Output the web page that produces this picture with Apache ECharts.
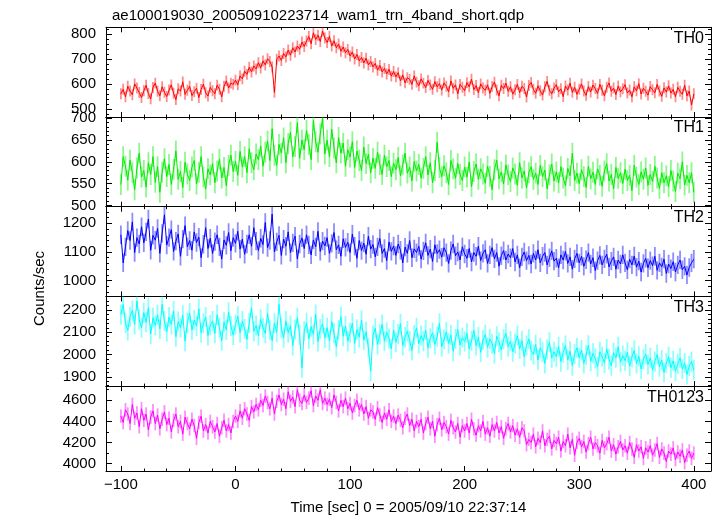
<!DOCTYPE html>
<html>
<head>
<meta charset="utf-8">
<script src="https://cdn.jsdelivr.net/npm/echarts@6/dist/echarts.min.js"></script>
<style>
html,body{margin:0;padding:0;background:#fff;}
#chart{width:720px;height:516px;}
</style>
</head>
<body>
<div id="chart"></div>
<script>
// ---- data ----
const titleText = 'ae100019030_20050910223714_wam1_trn_4band_short.qdp';
const xAxisTitle = 'Time [sec] 0 = 2005/09/10 22:37:14';
const yAxisTitle = 'Counts/sec';
const bandNames = ['TH0', 'TH1', 'TH2', 'TH3', 'TH0123'];
const bandColors = ['#ff0000', '#00ee00', '#0000ff', '#00ffff', '#ff00ff'];
const timeStart = -100;   // first bin time (s)
const timeStep = 2;       // bin width (s)
const xTickLabels = [-100, 0, 100, 200, 300, 400];
const errTH = [22, 24, 32, 45, 64];

const th0 = [
560,578,548,590,571,556,600,583,565,545,
572,594,561,540,585,603,570,552,588,566,
549,575,596,562,537,580,571,608,558,574,
590,553,568,582,545,577,599,564,551,586,
572,560,595,578,548,590,612,583,603,598,
615,596,632,620,651,638,667,648,672,660,
685,664,692,676,701,690,668,566,699,712,
694,722,708,736,715,745,728,752,739,768,
750,772,790,761,805,778,795,770,812,784,
766,790,752,773,745,760,731,748,725,738,
712,728,700,718,692,706,684,703,676,690,
668,682,655,674,648,662,640,658,631,650,
628,645,612,636,604,625,618,598,632,607,
592,620,603,585,614,596,578,609,588,601,
575,604,590,568,612,582,596,560,598,586,
572,605,588,619,577,593,565,600,583,574,
596,562,589,607,575,552,594,581,603,570,
588,559,576,598,565,590,581,547,593,606,
578,562,592,572,555,588,610,574,560,583,
597,568,580,549,591,575,603,566,586,558,
578,600,571,554,589,567,595,581,561,598,
574,552,586,604,570,583,557,591,568,580,
597,563,575,548,588,572,601,559,582,570,
555,589,576,564,598,571,550,584,567,592,
563,578,548,586,570,558,594,552,571,515,
560];

const th1 = [
548,612,590,558,604,575,536,586,620,565,
580,542,598,571,612,553,589,530,576,607,
566,594,548,583,625,560,578,541,599,572,
557,588,603,549,576,612,565,538,584,570,
596,552,579,606,563,587,545,592,615,578,
601,569,624,588,612,575,630,598,582,618,
605,636,590,622,648,603,676,615,592,640,
620,655,598,642,668,612,635,690,608,650,
628,672,640,605,695,646,622,664,700,618,
650,612,675,632,598,656,620,643,590,628,
611,646,587,625,603,580,634,596,617,575,
608,585,622,594,571,615,589,603,566,597,
582,610,568,593,620,574,588,556,601,579,
594,563,585,612,570,598,552,580,645,587,
566,591,575,548,603,584,562,596,571,557,
588,565,600,543,578,595,560,584,572,551,
590,567,536,582,604,561,577,549,593,570,
555,586,572,546,598,563,579,540,575,589,
560,574,548,592,566,581,538,570,595,556,
577,552,589,563,545,585,568,620,557,574,
550,582,566,541,590,561,576,548,584,569,
544,579,596,556,571,538,587,562,575,550,
583,557,569,534,592,565,548,577,560,586,
546,571,555,590,563,539,575,552,568,543,
580,556,532,574,561,600,547,569,552,575,
530];

const th2 = [
1160,1062,1118,1175,1140,1205,1098,1150,1128,1188,
1132,1170,1215,1106,1158,1141,1182,1095,1165,1230,
1124,1150,1178,1102,1138,1163,1085,1145,1192,1118,
1140,1106,1170,1133,1152,1080,1127,1185,1112,1148,
1095,1136,1160,1118,1075,1142,1123,1168,1104,1150,
1130,1172,1110,1145,1092,1128,1160,1120,1185,1138,
1105,1148,1126,1203,1115,1140,1232,1100,1135,1158,
1088,1145,1120,1170,1098,1132,1155,1076,1128,1149,
1112,1160,1125,1090,1142,1118,1172,1102,1138,1121,
1150,1095,1130,1168,1108,1125,1085,1146,1116,1134,
1098,1162,1120,1078,1140,1105,1131,1092,1155,1110,
1126,1083,1118,1147,1095,1112,1070,1135,1102,1121,
1088,1128,1106,1062,1117,1095,1140,1080,1111,1098,
1120,1075,1104,1132,1088,1110,1067,1125,1095,1108,
1082,1115,1098,1060,1105,1128,1087,1100,1072,1118,
1093,1078,1112,1065,1098,1085,1120,1070,1095,1108,
1060,1090,1115,1076,1098,1050,1087,1105,1072,1093,
1080,1112,1065,1090,1045,1083,1100,1070,1088,1058,
1095,1072,1108,1062,1085,1098,1055,1080,1104,1068,
1078,1045,1090,1072,1102,1060,1083,1040,1076,1095,
1062,1085,1050,1073,1098,1058,1080,1035,1070,1088,
1055,1076,1092,1048,1068,1083,1040,1072,1058,1090,
1062,1038,1075,1055,1086,1047,1068,1030,1060,1078,
1045,1070,1052,1085,1036,1062,1048,1075,1025,1058,
1042,1066,1030,1055,1072,1038,1050,1020,1046,1062,
1075];

const th3 = [
2180,2225,2142,2108,2170,2198,2135,2240,2156,2120,
2188,2145,2210,2092,2165,2130,2178,2115,2225,2150,
2102,2168,2135,2195,2080,2148,2120,2176,2060,2142,
2186,2110,2155,2128,2205,2098,2140,2168,2085,2132,
2150,2095,2178,2120,2062,2145,2110,2190,2128,2088,
2135,2172,2098,2150,2115,2068,2142,2210,2105,2130,
2085,2158,2120,2095,2185,2110,2062,2140,2100,2225,
2118,2075,2150,2098,2130,2040,2112,2165,2088,1940,
2105,2142,2070,2125,2090,2180,2058,2115,2138,2075,
2120,2062,2148,2095,2035,2110,2170,2082,2128,2060,
2098,2140,2050,2112,2078,2155,2065,2102,2030,1925,
2085,2118,2045,2090,2135,2060,2100,2072,2025,2110,
2055,2092,2138,2040,2078,2105,2062,2018,2088,2120,
2048,2085,2060,2110,2030,2072,2098,2045,2080,2140,
2035,2068,2102,2050,2088,2015,2070,2112,2042,2076,
2058,2095,2025,2062,2108,2040,2078,2010,2065,2090,
2032,2070,2048,2005,2082,2055,2020,2068,2095,2035,
2060,2012,2048,2085,2025,2062,1990,2040,2070,2018,
2000,2045,1975,2030,2010,1960,2022,2055,1985,2012,
1990,2035,1968,2008,2040,1975,2015,1950,2002,2030,
1985,2020,1960,1998,2042,1970,2005,1982,1945,2012,
1990,1962,2025,1978,1950,2008,1985,2035,1965,1995,
1972,2010,1948,1988,2018,1960,1992,1935,1978,2002,
1955,1985,1930,1968,2000,1945,1975,1920,1962,1990,
1940,1972,1925,1958,1985,1935,1962,1910,1948,1968,
1930];

const th0123 = [
4450,4390,4510,4470,4380,4560,4430,4480,4350,4520,
4410,4470,4320,4440,4500,4380,4460,4330,4420,4490,
4370,4430,4300,4410,4470,4350,4400,4280,4440,4380,
4330,4420,4360,4240,4390,4450,4310,4370,4290,4400,
4350,4300,4380,4260,4340,4410,4310,4370,4290,4400,
4450,4400,4500,4430,4520,4470,4410,4540,4490,4560,
4510,4600,4550,4640,4580,4520,4620,4470,4590,4650,
4560,4610,4520,4680,4590,4630,4540,4700,4600,4570,
4650,4580,4620,4690,4550,4640,4600,4700,4570,4620,
4560,4610,4530,4650,4580,4500,4600,4540,4620,4520,
4570,4480,4550,4600,4510,4560,4470,4540,4430,4510,
4490,4420,4530,4460,4390,4480,4420,4510,4400,4450,
4380,4460,4410,4340,4430,4470,4360,4420,4310,4400,
4350,4420,4290,4380,4440,4330,4400,4260,4370,4430,
4320,4390,4350,4280,4410,4340,4300,4380,4250,4360,
4310,4380,4290,4420,4330,4270,4360,4310,4400,4280,
4340,4260,4370,4310,4390,4290,4350,4240,4330,4380,
4300,4360,4270,4330,4250,4340,4310,4180,4230,4200,
4280,4160,4240,4200,4310,4170,4230,4260,4140,4220,
4190,4250,4120,4210,4170,4280,4150,4230,4080,4200,
4240,4160,4210,4110,4190,4250,4140,4200,4170,4100,
4220,4150,4190,4250,4120,4180,4090,4160,4210,4130,
4170,4100,4200,4140,4060,4180,4120,4160,4050,4150,
4110,4170,4080,4130,4190,4060,4140,4100,4020,4120,
4090,4150,4040,4110,4070,4130,4010,4080,4120,4050,
4100];

const yTickLabels = [
  [500, 600, 700, 800],
  [500, 550, 600, 650, 700],
  [1000, 1100, 1200],
  [1900, 2000, 2100, 2200],
  [4000, 4200, 4400, 4600]
];
const yMinorStep = [20, 10, 20, 20, 100];
const yRanges = [[467, 827], [497, 703], [945, 1258], [1858, 2261], [3931, 4734]];
const xRange = [-113, 415];
const xMinorStep = 20;

const bandData = [th0, th1, th2, th3, th0123];

// ---- layout / build ----
const FONT = '"Liberation Sans", Arial, Helvetica, sans-serif';
const gridLeft = 106, gridRight = 9, gridTop0 = 27.3, panelH = 89.7;

function minorTicks(lo, hi, step) {
  const out = [];
  let v = Math.ceil(lo / step) * step;
  for (; v <= hi; v += step) out.push(Math.round(v * 1000) / 1000);
  return out;
}

const grids = [], xAxes = [], yAxes = [], series = [], graphics = [];
const xMinor = minorTicks(xRange[0], xRange[1], xMinorStep);

bandData.forEach((vals, i) => {
  const top = gridTop0 + i * panelH;
  grids.push({ left: gridLeft, right: gridRight, top: top, height: panelH, containLabel: false });
  const isBottom = i === bandData.length - 1;
  const baseX = {
    gridIndex: i, type: 'value', min: xRange[0], max: xRange[1],
    splitLine: { show: false }
  };
  xAxes.push(Object.assign({}, baseX, {
    position: 'bottom',
    axisLine: { show: true, onZero: false, lineStyle: { color: '#000', width: 1 } },
    axisTick: { show: true, inside: true, length: 5, customValues: xTickLabels, lineStyle: { color: '#000' } },
    axisLabel: { show: isBottom, customValues: xTickLabels, margin: 6, color: '#000', fontSize: 15, fontFamily: FONT,
      formatter: v => (v < 0 ? '\u2212' + Math.abs(v) : String(v)) },
    name: isBottom ? xAxisTitle : '', nameLocation: 'middle', nameGap: 29,
    nameTextStyle: { color: '#000', fontSize: 15, fontFamily: FONT }
  }));
  xAxes.push(Object.assign({}, baseX, {
    position: 'bottom',
    axisLine: { show: false, onZero: false },
    axisTick: { show: true, inside: true, length: 2.5, customValues: xMinor, lineStyle: { color: '#000' } },
    axisLabel: { show: false }
  }));
  xAxes.push(Object.assign({}, baseX, {
    position: 'top',
    axisLine: { show: true, onZero: false, lineStyle: { color: '#000', width: 1 } },
    axisTick: { show: true, inside: true, length: 5, customValues: xTickLabels, lineStyle: { color: '#000' } },
    axisLabel: { show: false }
  }));
  xAxes.push(Object.assign({}, baseX, {
    position: 'top',
    axisLine: { show: false, onZero: false },
    axisTick: { show: true, inside: true, length: 2.5, customValues: xMinor, lineStyle: { color: '#000' } },
    axisLabel: { show: false }
  }));

  const yr = yRanges[i];
  const yMinor = minorTicks(yr[0], yr[1], yMinorStep[i]);
  const baseY = { gridIndex: i, type: 'value', min: yr[0], max: yr[1], splitLine: { show: false } };
  yAxes.push(Object.assign({}, baseY, {
    position: 'left',
    axisLine: { show: true, onZero: false, lineStyle: { color: '#000', width: 1 } },
    axisTick: { show: true, inside: true, length: 6, customValues: yTickLabels[i], lineStyle: { color: '#000' } },
    axisLabel: { show: true, customValues: yTickLabels[i], margin: 10, color: '#000', fontSize: 15, fontFamily: FONT,
      formatter: v => String(v) }
  }));
  yAxes.push(Object.assign({}, baseY, {
    position: 'left',
    axisLine: { show: false, onZero: false },
    axisTick: { show: true, inside: true, length: 3, customValues: yMinor, lineStyle: { color: '#000' } },
    axisLabel: { show: false }
  }));
  yAxes.push(Object.assign({}, baseY, {
    position: 'right',
    axisLine: { show: true, onZero: false, lineStyle: { color: '#000', width: 1 } },
    axisTick: { show: true, inside: true, length: 6, customValues: yTickLabels[i], lineStyle: { color: '#000' } },
    axisLabel: { show: false }
  }));
  yAxes.push(Object.assign({}, baseY, {
    position: 'right',
    axisLine: { show: false, onZero: false },
    axisTick: { show: true, inside: true, length: 3, customValues: yMinor, lineStyle: { color: '#000' } },
    axisLabel: { show: false }
  }));

  const pts = vals.map((v, k) => [timeStart + k * timeStep, v]);
  const err = errTH[i];
  series.push({
    type: 'custom', name: bandNames[i] + ' err',
    xAxisIndex: i * 4, yAxisIndex: i * 4,
    data: pts, clip: true, silent: true,
    encode: { x: 0, y: 1 },
    itemStyle: { color: bandColors[i] },
    renderItem: function (params, api) {
      const x = api.value(0), y = api.value(1);
      const p1 = api.coord([x, y - err]);
      const p2 = api.coord([x, y + err]);
      return {
        type: 'line',
        shape: { x1: p1[0], y1: p1[1], x2: p2[0], y2: p2[1] },
        style: { stroke: bandColors[i], lineWidth: 1.8, opacity: 0.45 }
      };
    }
  });
  series.push({
    type: 'line', name: bandNames[i],
    xAxisIndex: i * 4, yAxisIndex: i * 4,
    data: pts, showSymbol: false, clip: true, silent: true,
    lineStyle: { color: bandColors[i], width: 1 },
    itemStyle: { color: bandColors[i] }
  });

  graphics.push({
    type: 'text', right: 720 - 704, top: top + 3,
    style: { text: bandNames[i], fill: '#000', fontSize: 16, fontFamily: FONT }
  });
});

graphics.push({
  type: 'text', left: 32, top: 251, rotation: Math.PI / 2,
  style: { text: yAxisTitle, fill: '#000', fontSize: 15, fontFamily: FONT, align: 'center', verticalAlign: 'middle' }
});

const chart = echarts.init(document.getElementById('chart'), null, { renderer: 'canvas' });
chart.setOption({
  animation: false,
  backgroundColor: '#fff',
  title: {
    text: titleText, left: 107, top: 3,
    textStyle: { color: '#000', fontSize: 15, fontWeight: 'normal', fontFamily: FONT }
  },
  grid: grids,
  xAxis: xAxes,
  yAxis: yAxes,
  series: series,
  graphic: graphics
});
</script>
</body>
</html>
